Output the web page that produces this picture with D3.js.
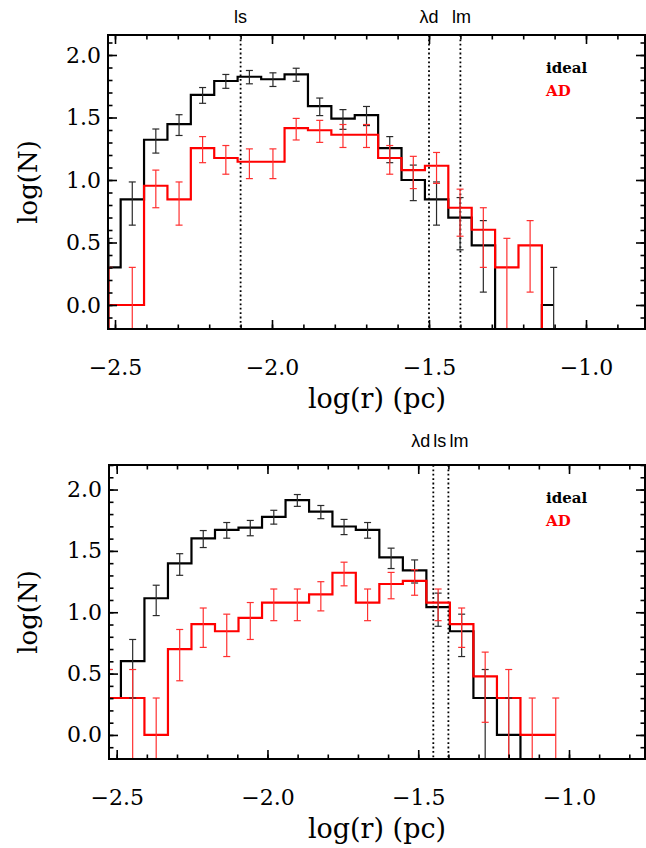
<!DOCTYPE html>
<html><head><meta charset="utf-8">
<script src="https://cdn.jsdelivr.net/npm/d3@7"></script>
<style>body{margin:0;background:#fff} svg{display:block}</style>
</head><body><svg id="c" width="646" height="848"></svg>
<script>
// ---------- data ----------
// log(r) bin centres, upper panel
const binCentersTop = [-2.519,-2.445,-2.370,-2.296,-2.221,-2.147,-2.072,-1.997,-1.923,-1.848,
                       -1.774,-1.699,-1.625,-1.550,-1.476,-1.401,-1.327,-1.252,-1.178,-1.103];
// log(N) per bin, upper panel (null = empty bin, below the plot)
const idealTop = [0.301,0.845,1.322,1.447,1.681,1.792,1.826,1.806,1.845,1.591,
                  1.491,1.519,1.255,1.000,0.845,0.699,0.477,null,null,0.000];
const adTop    = [0.000,0.000,0.954,0.845,1.255,1.176,1.146,1.146,1.415,1.398,
                  1.362,1.362,1.176,1.079,1.114,0.778,0.602,0.301,0.477,null];
// lower panel
const binCentersBottom = [-2.525,-2.447,-2.369,-2.291,-2.213,-2.135,-2.057,-1.979,-1.901,-1.823,
                          -1.746,-1.668,-1.590,-1.512,-1.434,-1.356,-1.278,-1.200,-1.122,-1.044];
const idealBottom = [0.301,0.602,1.114,1.398,1.602,1.672,1.690,1.778,1.914,1.820,
                     1.699,1.672,1.447,1.342,1.041,0.845,0.301,0.000,null];
const adBottom    = [0.301,0.301,0.000,0.699,0.903,0.845,0.954,1.079,1.079,1.146,
                     1.322,1.079,1.230,1.255,1.079,0.903,0.477,0.301,0.000,0.000];
const xTickValues = [-2.5,-2.0,-1.5,-1.0];
const yTickValues = [0.0,0.5,1.0,1.5,2.0];
const markLinesTop = [-2.10,-1.50,-1.40];
const markLabelsTop = ["ls","λd","lm"];
const markLinesBottom = [-1.45,-1.40];
const markLabelsBottom = ["λd","ls","lm"];
const seriesNames = ["ideal","AD"];
const seriesColors = ["#000000","#ff0000"];
const xTitle = "log(r)  (pc)";
const yTitle = "log(N)";

// ---------- layout ----------
const panels = [
  {frame:{x0:108,x1:645,y0:35,y1:329}, xDom:[-2.5223,-0.8121], yDom:[-0.192,2.16],
   xs:binCentersTop, series:[idealTop, adTop], marks:markLinesTop, markLabels:markLabelsTop,
   labelDy:-12,
   labelPos:[{i:0,dx:0,anchor:"middle"},{i:1,dx:0,anchor:"middle"},{i:2,dx:1,anchor:"middle"}]},
  {frame:{x0:109,x1:645,y0:465,y1:759}, xDom:[-2.5255,-0.748], yDom:[-0.196,2.20],
   xs:binCentersBottom, series:[idealBottom, adBottom], marks:markLinesBottom, markLabels:markLabelsBottom,
   labelDy:-18,
   labelPos:[{i:0,dx:-3,anchor:"end"},{i:0,dx:0,anchor:"start"},{i:1,dx:1,anchor:"start"}]}
];

const svg = d3.select("#c");
const serif = "'DejaVu Serif', serif";
const sans = "'Liberation Sans', Arial, sans-serif";

panels.forEach((p, pi) => {
  const f = p.frame;
  const x = d3.scaleLinear().domain(p.xDom).range([f.x0, f.x1]);
  const y = d3.scaleLinear().domain(p.yDom).range([f.y1, f.y0]);
  const floorV = p.yDom[0] - 1;
  const g = svg.append("g");
  const clipId = "clip" + pi;
  svg.append("clipPath").attr("id", clipId).append("rect")
    .attr("x", f.x0).attr("y", f.y0).attr("width", f.x1 - f.x0).attr("height", f.y1 - f.y0);

  const plot = g.append("g").attr("clip-path", `url(#${clipId})`);

  // dotted scale lines
  plot.selectAll("line.mark").data(p.marks).join("line")
    .attr("x1", d => x(d)).attr("x2", d => x(d))
    .attr("y1", f.y0).attr("y2", f.y1)
    .attr("stroke", "#000").attr("stroke-width", 1.8).attr("stroke-dasharray", "1.8,2.6");

  // histograms
  const line = d3.line().curve(d3.curveStep)
    .x(d => x(d[0])).y(d => y(d[1] == null ? floorV : d[1]));
  p.series.forEach((vals, si) => {
    const pts = vals.map((v, i) => [p.xs[i], v]);
    plot.append("path").datum(pts).attr("d", line)
      .attr("fill", "none").attr("stroke", seriesColors[si]).attr("stroke-width", 2.2)
      .attr("stroke-linejoin", "miter");
  });
  // error bars: log10(N +/- sqrt(N))
  p.series.forEach((vals, si) => {
    const col = si === 0 ? "#2a2a2a" : "#ff3030";
    vals.forEach((v, i) => {
      if (v == null) return;
      const N = Math.round(Math.pow(10, v));
      const s = Math.sqrt(N);
      const hi = Math.log10(N + s);
      const lo = N - s > 0.001 ? Math.log10(N - s) : floorV;
      const cx = x(p.xs[i]);
      const eg = plot.append("g").attr("stroke", col).attr("stroke-width", 1.2);
      eg.append("line").attr("x1", cx).attr("x2", cx).attr("y1", y(hi)).attr("y2", y(lo));
      eg.append("line").attr("x1", cx - 3.5).attr("x2", cx + 3.5).attr("y1", y(hi)).attr("y2", y(hi));
      if (lo !== floorV)
        eg.append("line").attr("x1", cx - 3.5).attr("x2", cx + 3.5).attr("y1", y(lo)).attr("y2", y(lo));
    });
  });

  // axes (inward ticks)
  const fmt = d3.format(".1f");
  const xMinor = d3.range(-2.5, -0.75, 0.1).map(v => +v.toFixed(2)).filter(v => v >= p.xDom[0] && v <= p.xDom[1]);
  const yMinor = d3.range(-0.1, 2.25, 0.1).map(v => +v.toFixed(2)).filter(v => v >= p.yDom[0] && v <= p.yDom[1]);
  const axes = [
    [d3.axisBottom(x).tickValues(xTickValues).tickSize(-9).tickPadding(30).tickFormat(fmt), `translate(0,${f.y1})`],
    [d3.axisBottom(x).tickValues(xMinor).tickSize(-4.5).tickFormat(""), `translate(0,${f.y1})`],
    [d3.axisTop(x).tickValues(xTickValues).tickSize(-9).tickFormat(""), `translate(0,${f.y0})`],
    [d3.axisTop(x).tickValues(xMinor).tickSize(-4.5).tickFormat(""), `translate(0,${f.y0})`],
    [d3.axisLeft(y).tickValues(yTickValues).tickSize(-9).tickPadding(7).tickFormat(fmt), `translate(${f.x0},0)`],
    [d3.axisLeft(y).tickValues(yMinor).tickSize(-4.5).tickFormat(""), `translate(${f.x0},0)`],
    [d3.axisRight(y).tickValues(yTickValues).tickSize(-9).tickFormat(""), `translate(${f.x1},0)`],
    [d3.axisRight(y).tickValues(yMinor).tickSize(-4.5).tickFormat(""), `translate(${f.x1},0)`]
  ];
  axes.forEach(([ax, tr]) => {
    const a = g.append("g").attr("transform", tr).call(ax);
    a.select(".domain").remove();
    a.selectAll("line").attr("stroke", "#000").attr("stroke-width", 1.6);
    a.selectAll("text").attr("font-family", serif).attr("font-size", 22).attr("fill", "#000");
  });

  // frame
  g.append("rect").attr("x", f.x0).attr("y", f.y0).attr("width", f.x1 - f.x0).attr("height", f.y1 - f.y0)
    .attr("fill", "none").attr("stroke", "#000").attr("stroke-width", 2);

  // titles
  g.append("text").attr("x", 377).attr("y", f.y1 + 79).attr("text-anchor", "middle")
    .attr("font-family", serif).attr("font-size", 27).text(xTitle);
  g.append("text").attr("transform", `translate(37,${(f.y0 + f.y1) / 2}) rotate(-90)`)
    .attr("text-anchor", "middle").attr("font-family", serif).attr("font-size", 26).text(yTitle);

  // mark labels
  p.labelPos.forEach((lp, k) => {
    g.append("text").attr("x", x(p.marks[lp.i]) + lp.dx).attr("y", f.y0 + p.labelDy)
      .attr("text-anchor", lp.anchor).attr("font-family", sans).attr("font-size", 18)
      .text(p.markLabels[k]);
  });

  // legend
  seriesNames.forEach((n, si) => {
    g.append("text").attr("x", 546).attr("y", f.y0 + 38 + si * 23)
      .attr("font-family", serif).attr("font-weight", "bold").attr("font-size", 15)
      .attr("fill", seriesColors[si]).text(n);
  });
});
</script></body></html>
